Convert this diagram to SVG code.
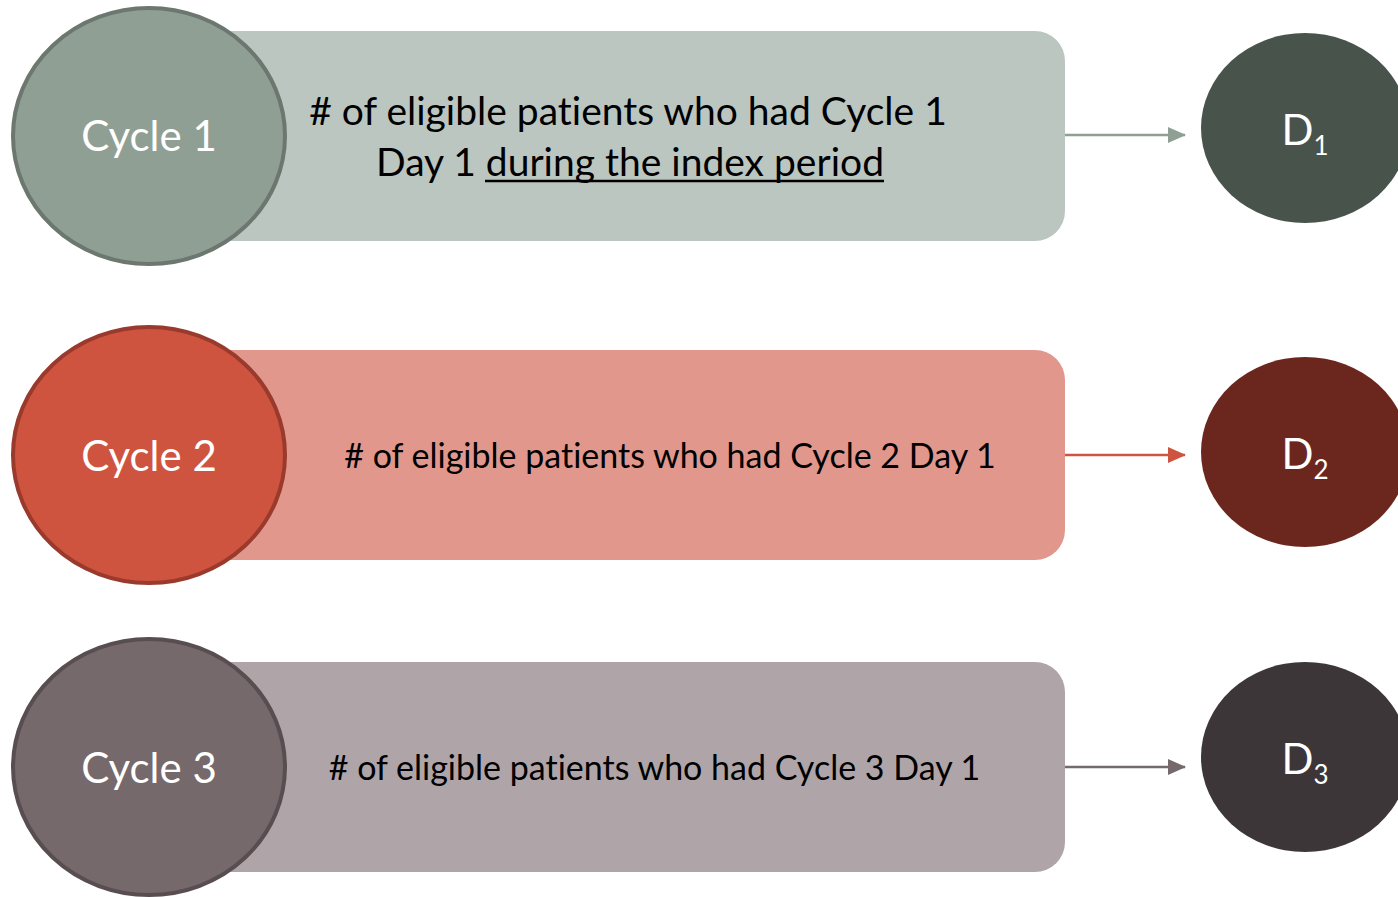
<svg xmlns="http://www.w3.org/2000/svg" width="1398" height="897" viewBox="0 0 1398 897">
<defs>
<marker id="ah1" markerWidth="18" markerHeight="16" refX="17" refY="8" orient="auto" markerUnits="userSpaceOnUse"><path d="M0,0 L18,8 L0,16 Z" fill="#8f9f94"/></marker>
<marker id="ah2" markerWidth="18" markerHeight="16" refX="17" refY="8" orient="auto" markerUnits="userSpaceOnUse"><path d="M0,0 L18,8 L0,16 Z" fill="#cf543f"/></marker>
<marker id="ah3" markerWidth="18" markerHeight="16" refX="17" refY="8" orient="auto" markerUnits="userSpaceOnUse"><path d="M0,0 L18,8 L0,16 Z" fill="#75696b"/></marker>
</defs>
<style>
text{font-variant-ligatures:none}
.lbl{font-family:Lato,"Open Sans","Liberation Sans",sans-serif;fill:#fff;font-size:42px;text-anchor:middle}
.body{font-family:Lato,"Open Sans","Liberation Sans",sans-serif;fill:#000;text-anchor:middle}
.circ{stroke-width:4}
.conn{stroke-width:2.5;fill:none}
</style>
<rect width="1398" height="897" fill="#fff"/>
<g id="row1">
<rect x="190" y="31" width="875" height="210" rx="30" fill="#bcc6c1"/>
<ellipse class="circ" cx="149" cy="136" rx="136" ry="128" fill="#8f9f94" stroke="#6b776f"/>
<text class="lbl" x="149" y="151">Cycle 1</text>
<text class="body" font-size="39" x="628" y="125"># of eligible patients who had Cycle 1</text>
<text class="body" font-size="39" x="630" y="176">Day 1 during the index period</text>
<line x1="485" y1="181" x2="884" y2="181" stroke="#000" stroke-width="2.5"/>
</g>
<g id="row2">
<rect x="190" y="350" width="875" height="210" rx="30" fill="#e2978c"/>
<ellipse class="circ" cx="149" cy="455" rx="136" ry="128" fill="#cf543f" stroke="#9a3a2d"/>
<text class="lbl" x="149" y="471">Cycle 2</text>
<text class="body" font-size="34" x="670" y="468"># of eligible patients who had Cycle 2 Day 1</text>
</g>
<g id="row3">
<rect x="190" y="662" width="875" height="210" rx="30" fill="#afa5a8"/>
<ellipse class="circ" cx="149" cy="767" rx="136" ry="128" fill="#75696b" stroke="#584e51"/>
<text class="lbl" x="149" y="783">Cycle 3</text>
<text class="body" font-size="34" x="654.5" y="780"># of eligible patients who had Cycle 3 Day 1</text>
</g>
<g id="d1"><ellipse cx="1305" cy="128" rx="104" ry="95" fill="#48534c"/><text class="lbl" x="1305" y="145">D<tspan font-size="26" dy="10">1</tspan></text></g>
<g id="d2"><ellipse cx="1305" cy="452" rx="104" ry="95" fill="#6b271d"/><text class="lbl" x="1305" y="469">D<tspan font-size="26" dy="10">2</tspan></text></g>
<g id="d3"><ellipse cx="1305" cy="757" rx="104" ry="95" fill="#3c3638"/><text class="lbl" x="1305" y="774">D<tspan font-size="26" dy="10">3</tspan></text></g>
<g id="connectors">
<line class="conn" x1="1065" y1="135" x2="1185" y2="135" stroke="#8f9f94" marker-end="url(#ah1)"/>
<line class="conn" x1="1065" y1="455" x2="1185" y2="455" stroke="#cf543f" marker-end="url(#ah2)"/>
<line class="conn" x1="1065" y1="767" x2="1185" y2="767" stroke="#75696b" marker-end="url(#ah3)"/>
</g>
</svg>
